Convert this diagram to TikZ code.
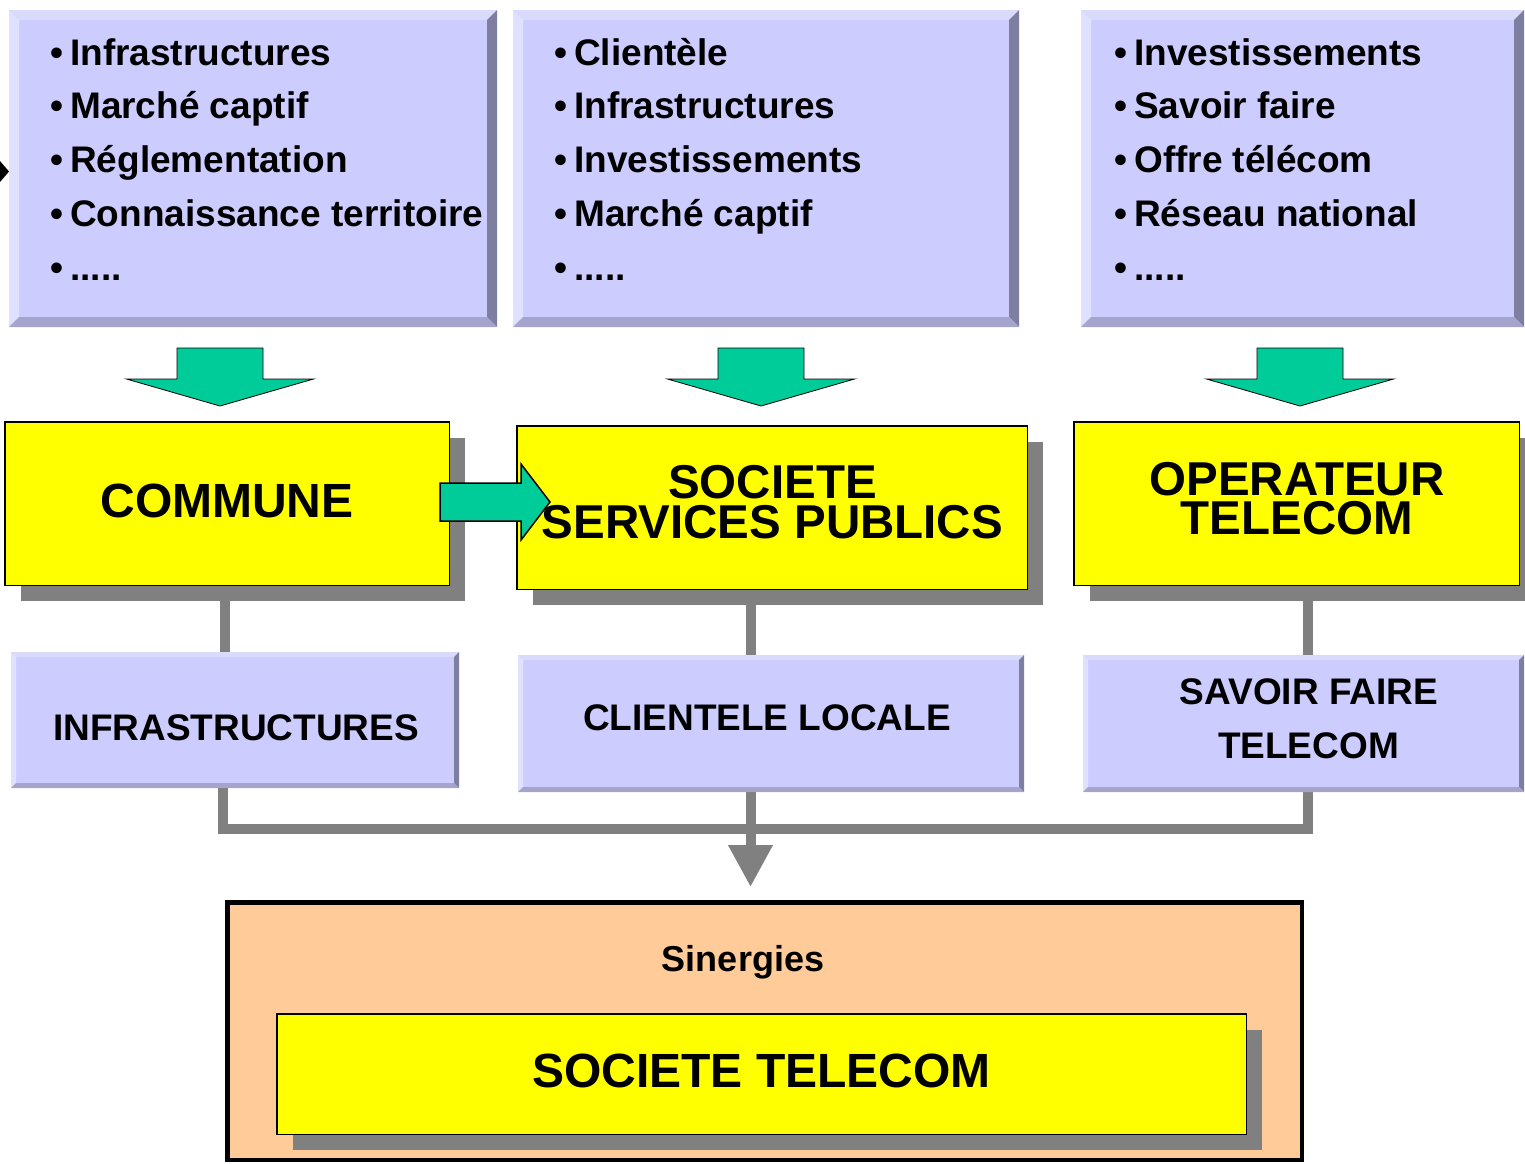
\documentclass[tikz,border=0pt]{standalone}
\usepackage{fontspec}
\setmainfont{Liberation Sans}
\usetikzlibrary{arrows.meta,calc,shadows}
\definecolor{lav}{HTML}{CCCCFF}
\definecolor{lavtop}{HTML}{DADAFC}
\definecolor{lavleft}{HTML}{E0E0FF}
\definecolor{lavright}{HTML}{7E7EA0}
\definecolor{lavbot}{HTML}{A4A4CC}
\definecolor{ylw}{HTML}{FFFF00}
\definecolor{shd}{HTML}{808080}
\definecolor{grn}{HTML}{00CC99}
\definecolor{peach}{HTML}{FFCC99}
\pgfdeclarelayer{background}
\pgfsetlayers{background,main}
\newcommand\fivedots{.....}
\newcommand\bevbox[6]{%
  \node[inner sep=0, fill=lav, minimum width={(#4-#2)*1pt}, minimum height={(#5-#3)*1pt}] (#1) at ({(#2+#4)/2},{(#3+#5)/2}) {};
  \fill[lavtop] (#2,#3) -- (#4,#3) -- ({#4-#6},{#3+#6}) -- ({#2+#6},{#3+#6}) -- cycle;
  \fill[lavleft] (#2,#3) -- ({#2+#6},{#3+#6}) -- ({#2+#6},{#5-#6}) -- (#2,#5) -- cycle;
  \fill[lavright] (#4,#3) -- ({#4-#6},{#3+#6}) -- ({#4-#6},{#5-#6}) -- (#4,#5) -- cycle;
  \fill[lavbot] (#2,#5) -- ({#2+#6},{#5-#6}) -- ({#4-#6},{#5-#6}) -- (#4,#5) -- cycle;
}
\newcommand\dnarrow[1]{%
  \filldraw[garrow] ({#1-43},348) -- ({#1+43},348) -- ({#1+43},379) -- ({#1+93.5},379) -- (#1,406) -- ({#1-93.5},379) -- ({#1-43},379) -- cycle;
}
\begin{document}
\begin{tikzpicture}[x=1pt,y=-1pt,
  lst/.style={font=\fontsize{37}{40}\selectfont\bfseries, inner sep=0, anchor=base west},
  blt/.style={font=\fontsize{37}{40}\selectfont\bfseries, inner sep=0, anchor=base},
  big/.style={font=\fontsize{48}{48}\selectfont\bfseries, inner sep=0, anchor=base},
  twoline/.style={font=\fontsize{47.5}{#1}\selectfont\bfseries, inner sep=0, anchor=center, align=center},
  mid/.style={font=\fontsize{37}{37}\selectfont\bfseries, inner sep=0, anchor=base},
  ybox/.style={fill=ylw, draw=black, line width=1.5pt, inner sep=0,
    drop shadow={shadow xshift=16pt, shadow yshift=-16pt, fill=shd, opacity=1}},
  conn/.style={draw=shd, line width=10pt, line join=miter},
  garrow/.style={fill=grn, draw=black, line width=0.8pt}]
\useasboundingbox (0,0) rectangle (1525,1163);

% partial arrow tip at left edge
\fill[black] (0,161) -- (9,171.5) -- (0,182) -- cycle;

% top boxes
\bevbox{top1}{9}{10}{497}{327}{10}
\bevbox{top2}{513}{10}{1019}{327}{10}
\bevbox{top3}{1081}{10}{1524}{327}{10}

\foreach \t [count=\i] in {Infrastructures, Marché captif, Réglementation, Connaissance territoire, \fivedots} {
  \node[blt] (a-b\i) at (56.5, {65+(\i-1)*53.75}) {•};
  \node[lst] (a-t\i) at (70, {65+(\i-1)*53.75}) {\t};
}
\foreach \t [count=\i] in {Clientèle, Infrastructures, Investissements, Marché captif, \fivedots} {
  \node[blt] (b-b\i) at (560.5, {65+(\i-1)*53.75}) {•};
  \node[lst] (b-t\i) at (574, {65+(\i-1)*53.75}) {\t};
}
\foreach \t [count=\i] in {Investissements, Savoir faire, Offre télécom, Réseau national, \fivedots} {
  \node[blt] (c-b\i) at (1120.5, {65+(\i-1)*53.75}) {•};
  \node[lst] (c-t\i) at (1134, {65+(\i-1)*53.75}) {\t};
}

% green down arrows
\dnarrow{220}
\dnarrow{761}
\dnarrow{1300}

% yellow boxes
\node[ybox, minimum width=444.5pt, minimum height=163.5pt] (commune) at (227,503.5) {};
\node[ybox, minimum width=510.5pt, minimum height=163.5pt] (ssp) at (772,507.5) {};
\node[ybox, minimum width=445.5pt, minimum height=163.5pt] (oper) at (1296.5,503.5) {};

\node[big] (t-commune) at (227,517) {COMMUNE};
\node[twoline=40pt] (t-ssp) at (772.5,502.5) {SOCIETE\\SERVICES PUBLICS};
\node[twoline=39pt] (t-op) at (1297,499) {OPERATEUR\\TELECOM};

% horizontal green arrow
\filldraw[garrow, line width=1.5pt] (440,483) -- (521,483) -- (521,464) -- (550,502) -- (521,540) -- (521,521) -- (440,521) -- cycle;

% middle lavender boxes
\bevbox{infra}{11}{652}{459}{788}{5}
\bevbox{client}{518}{655}{1024}{792}{5}
\bevbox{savoir}{1083}{655}{1524}{792}{5}
\node[mid] (t-infra) at (236,740) {INFRASTRUCTURES};
\node[mid] (t-client) at (767,730) {CLIENTELE LOCALE};
\node[mid] (t-sav1) at (1309,704) {SAVOIR FAIRE};
\node[mid] (t-sav2) at (1308.5,758) {TELECOM};

% bottom box
\node[draw=black, line width=4.5pt, fill=peach, inner sep=0, minimum width=1074.5pt, minimum height=257.5pt] (syn) at (764.5,1031) {};
\node[mid, font=\fontsize{36}{36}\selectfont\bfseries] (t-syn) at (743,971) {Sinergies};
\node[ybox, minimum width=969.5pt, minimum height=120.5pt] (stel) at (761.5,1074) {};
\node[big] (t-stel) at (761.5,1087) {SOCIETE TELECOM};

% connectors
\coordinate (v1) at (224.5,0);
\coordinate (v2) at (750.5,0);
\coordinate (v3) at (1308,0);
\coordinate (bl) at (222.5,828.5);
\coordinate (br) at (1308,828.5);
\coordinate (mtip) at (750.5,887);
\begin{pgfonlayer}{background}
\draw[conn] (commune.south -| v1) -- (infra.north -| v1);
\draw[conn] (ssp.south -| v2) -- (client.north -| v2);
\draw[conn] (oper.south -| v3) -- (savoir.north -| v3);
\draw[conn] (infra.south -| bl) -- (bl) -- (br) -- (savoir.south -| br);
\draw[conn, -{Triangle[length=42pt,width=42pt]}] (client.south -| v2) -- (mtip);
\end{pgfonlayer}
\end{tikzpicture}
\end{document}
